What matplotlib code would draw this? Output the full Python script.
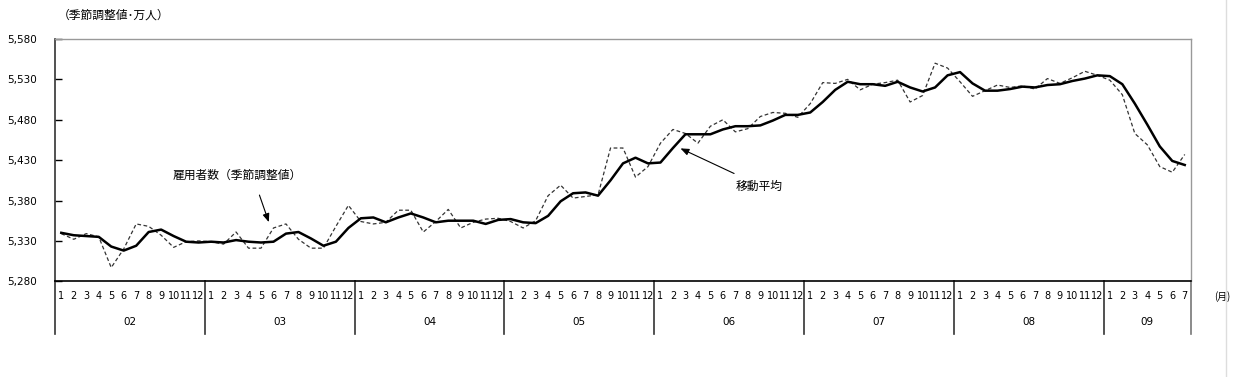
"""Employees (seasonally adjusted) with moving average, 2002-01 .. 2009-07."""

import matplotlib

matplotlib.use("Agg")
import matplotlib.pyplot as plt
import matplotlib.transforms as mtransforms
import numpy as np

plt.rcParams["font.family"] = ["DejaVu Sans", "Noto Sans CJK JP"]

# monthly values, 万人
employees = [
    5339, 5332, 5339, 5335, 5297, 5320, 5351, 5348, 5337, 5322, 5329, 5330,
    5329, 5326, 5341, 5321, 5321, 5346, 5351, 5332, 5321, 5321, 5348, 5374,
    5354, 5351, 5353, 5368, 5368, 5341, 5354, 5369, 5346, 5353, 5357, 5358,
    5354, 5346, 5355, 5386, 5399, 5383, 5385, 5387, 5445, 5445, 5409, 5422,
    5451, 5468, 5463, 5451, 5472, 5480, 5465, 5469, 5484, 5489, 5488, 5483,
    5500, 5526, 5525, 5530, 5517, 5524, 5526, 5529, 5502, 5510, 5550, 5544,
    5527, 5509, 5516, 5523, 5520, 5522, 5518, 5531, 5525, 5532, 5540, 5535,
    5529, 5511, 5463, 5449, 5422, 5415, 5437,
]
moving_avg = [
    5340, 5337, 5336, 5335, 5323, 5318, 5324, 5341, 5344, 5336, 5329, 5328,
    5329, 5328, 5331, 5329, 5328, 5329, 5339, 5341, 5333, 5324, 5329, 5346,
    5358, 5359, 5353, 5359, 5364, 5359, 5353, 5355, 5355, 5355, 5351, 5356,
    5357, 5353, 5352, 5361, 5379, 5389, 5390, 5386, 5405, 5426, 5433, 5426,
    5427, 5445, 5462, 5462, 5462, 5468, 5472, 5472, 5473, 5479, 5486, 5486,
    5489, 5502, 5517, 5527, 5524, 5524, 5522, 5527, 5520, 5515, 5520, 5535,
    5539, 5525, 5516, 5516, 5518, 5521, 5520, 5523, 5524, 5528, 5531, 5535,
    5534, 5524, 5500, 5474, 5447, 5429, 5424,
]
years = ["02", "03", "04", "05", "06", "07", "08", "09"]
months_per_year = [12, 12, 12, 12, 12, 12, 12, 7]
y_ticks = [5280, 5330, 5380, 5430, 5480, 5530, 5580]

fig = plt.figure(figsize=(12.37, 3.77), dpi=100)
ax = fig.add_axes([0.0445, 0.2539, 0.9183, 0.6427])

x = np.arange(len(employees))
ax.plot(x, employees, color="#333333", lw=0.9, ls=(0, (3, 2)))
ax.plot(x, moving_avg, color="black", lw=1.8)

ax.set_xlim(-0.5, len(employees) - 0.5)
ax.set_ylim(y_ticks[0], y_ticks[-1])
ax.set_yticks(y_ticks)
ax.set_yticklabels([f"{v:,}" for v in y_ticks], fontsize=7.5)
ax.tick_params(axis="y", direction="in", length=5, width=1, pad=13)
ax.set_xticks([])

ax.spines["left"].set_color("#333333")
ax.spines["left"].set_linewidth(1.2)
ax.spines["bottom"].set_color("black")
ax.spines["bottom"].set_linewidth(1.2)
for side in ("top", "right"):
    ax.spines[side].set_color("#999999")
    ax.spines[side].set_linewidth(1)

# category axis: months and years
trans = mtransforms.blended_transform_factory(ax.transData, ax.transAxes)
start = 0
for year, n in zip(years, months_per_year):
    for m in range(n):
        ax.text(start + m, -0.062, str(m + 1), transform=trans, ha="center",
                va="center", fontsize=7, clip_on=False)
    ax.text(start + n / 2 - 0.5, -0.168, year, transform=trans, ha="center",
            va="center", fontsize=7.5, clip_on=False)
    ax.plot([start - 0.5, start - 0.5], [0, -0.218], transform=trans,
            color="#333333", lw=1.2, clip_on=False)
    start += n
ax.plot([start - 0.5, start - 0.5], [0, -0.218], transform=trans,
        color="#777777", lw=1.2, clip_on=False)
ax.text(start + 2.0, -0.062, "(月)", transform=trans, ha="center", va="center",
        fontsize=7, family=["Noto Sans CJK JP"], clip_on=False)

# annotations
ax.text(8.9, 5411, "雇用者数（季節調整値）", fontsize=8.5, va="center",
        family=["Noto Sans CJK JP"])
ax.annotate("", xy=(16.7, 5350), xytext=(15.8, 5390),
            arrowprops=dict(arrowstyle="-|>,head_length=0.5,head_width=0.2",
                            color="black", lw=0.8))
ax.text(54.0, 5397, "移動平均", fontsize=8.5, va="center",
        family=["Noto Sans CJK JP"])
ax.annotate("", xy=(49.4, 5446), xytext=(54.1, 5412),
            arrowprops=dict(arrowstyle="-|>,head_length=0.5,head_width=0.2",
                            color="black", lw=0.8))

fig.text(0.047, 0.96, "（季節調整値･万人）", fontsize=8.5, va="center",
         family=["Noto Sans CJK JP"])
fig.add_artist(plt.Line2D([0.991, 0.991], [0, 1], color="#dddddd", lw=1))

fig.savefig("out.png", dpi=100)
